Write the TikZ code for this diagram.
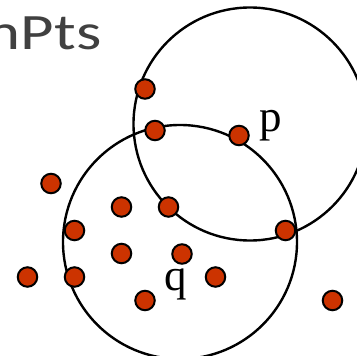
\documentclass[tikz,border=0pt]{standalone}
\usepackage{fontspec}
\setmainfont{Liberation Serif}
\newfontfamily\titlefont{Carlito}
\definecolor{dotred}{RGB}{204,51,0}
\definecolor{titlegray}{RGB}{64,64,64}
\begin{document}
\begin{tikzpicture}[x=1pt,y=-1pt,
  pt/.style={circle,draw=black,line width=2pt,fill=dotred,minimum size=19.5pt,inner sep=0pt},
  ring/.style={draw=black,line width=2.4pt},
  lbl/.style={font=\fontsize{45}{45}\selectfont,inner sep=0pt,anchor=base west}]
\useasboundingbox (0,0) rectangle (357,356);
\clip (0,0) rectangle (357,356);
\node[anchor=base east,inner sep=0pt,text=titlegray,font=\titlefont\fontsize{51}{51}\selectfont] (title) at (102,49.3) {\scalebox{1.27}[1]{nPts}};
\coordinate (cp) at (250,124);
\coordinate (cq) at (180,242);
\draw[ring] (cp) circle[radius=116.5];
\draw[ring] (cq) circle[radius=117];
\node[pt] (d1) at (145,89) {};
\node[pt] (d2) at (155,130.5) {};
\node[pt] (p) at (239,135.5) {};
\node[pt] (d4) at (51,183.5) {};
\node[pt] (d5) at (121.5,207) {};
\node[pt] (d6) at (168.5,207) {};
\node[pt] (d7) at (74.5,230.5) {};
\node[pt] (d8) at (121.5,253.5) {};
\node[pt] (q) at (182,254) {};
\node[pt] (d10) at (27.5,277) {};
\node[pt] (d11) at (74.5,277) {};
\node[pt] (d12) at (215.5,277) {};
\node[pt] (d13) at (145,300.5) {};
\node[pt] (d14) at (285.5,230.5) {};
\node[pt] (d15) at (332.5,300.5) {};
\node[lbl] (plabel) at (259,131) {p};
\node[lbl] (qlabel) at (164,290) {q};
\end{tikzpicture}
\end{document}
